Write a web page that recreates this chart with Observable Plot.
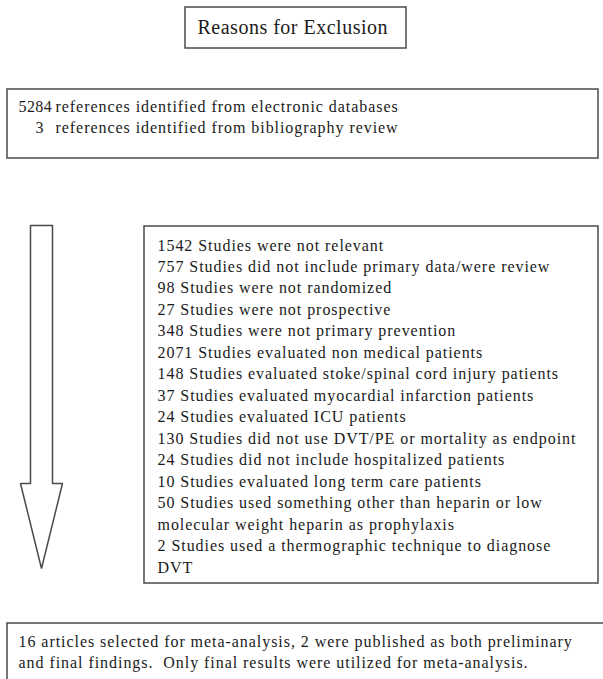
<!DOCTYPE html>
<html>
<head>
<meta charset="utf-8">
<script src="https://cdn.jsdelivr.net/npm/d3@7"></script>
<script src="https://cdn.jsdelivr.net/npm/@observablehq/plot@0.6"></script>
<style>
  html, body { margin: 0; padding: 0; background: #fff; }
  svg text { white-space: pre; font-family: "Liberation Serif", "Times New Roman", serif; }
  .body-text text { letter-spacing: 0.95px; }
  .count-text text { letter-spacing: 0.4px; }
  .title-text text { letter-spacing: 0.5px; }
</style>
</head>
<body>
<div id="chart"></div>
<script>
// ---- data ----
const title = "Reasons for Exclusion";
const sourceCounts = ["5284", "3"];
const sourceLabels = [
  "references identified from electronic databases",
  "references identified from bibliography review"
];
const exclusionCounts = [1542, 757, 98, 27, 348, 2071, 148, 37, 24, 130, 24, 10, 50, 2];
const exclusionReasons = [
  "Studies were not relevant",
  "Studies did not include primary data/were review",
  "Studies were not randomized",
  "Studies were not prospective",
  "Studies were not primary prevention",
  "Studies evaluated non medical patients",
  "Studies evaluated stoke/spinal cord injury patients",
  "Studies evaluated myocardial infarction patients",
  "Studies evaluated ICU patients",
  "Studies did not use DVT/PE or mortality as endpoint",
  "Studies did not include hospitalized patients",
  "Studies evaluated long term care patients",
  "Studies used something other than heparin or low\nmolecular weight heparin as prophylaxis",
  "Studies used a thermographic technique to diagnose\nDVT"
];
const finalLines = [
  "16 articles selected for meta-analysis, 2 were published as both preliminary",
  "and final findings.  Only final results were utilized for meta-analysis."
];

// ---- layout ----
const W = 603, H = 679;
const serif = "'Liberation Serif', 'Times New Roman', serif";
const boxes = [
  {x1: 185, x2: 406, y1: 7, y2: 48},     // title
  {x1: 7, x2: 598, y1: 89, y2: 158},     // sources
  {x1: 144, x2: 598, y1: 226, y2: 583},  // exclusions
  {x1: 7, x2: 610, y1: 623, y2: 686}     // final
];
const arrow = [
  [30, 225], [52, 225], [52, 483], [62, 483], [41, 568],
  [20, 483], [30, 483], [30, 225]
].map(([x, y]) => ({x, y}));

const titleText = [{x: 197, y: 33, text: title}];
const countTexts = sourceCounts.map((c, i) => ({x: [18, 35][i], y: 111 + i * 21.5, text: c}));
const texts = [];
sourceLabels.forEach((l, i) => texts.push({x: 55, y: 111 + i * 21.5, text: l}));
let line = 0;
exclusionCounts.forEach((c, i) => {
  const parts = (c + " " + exclusionReasons[i]).split("\n");
  parts.forEach(p => {
    texts.push({x: 157, y: 250 + line * 21.47, text: p});
    line++;
  });
});
finalLines.forEach((t, i) => texts.push({x: 18, y: 646 + i * 21.5, text: t}));

const chart = Plot.plot({
  width: W,
  height: H,
  margin: 0,
  x: {domain: [0, W], range: [0, W], axis: null},
  y: {domain: [0, H], range: [0, H], axis: null},
  style: {fontFamily: serif, background: "#fff"},
  marks: [
    Plot.rect(boxes, {x1: "x1", x2: "x2", y1: "y1", y2: "y2", fill: "none", stroke: "#4a4a4a", strokeWidth: 1.5}),
    Plot.line(arrow, {x: "x", y: "y", stroke: "#4a4a4a", strokeWidth: 1.5, strokeLinejoin: "miter"}),
    Plot.text(titleText, {x: "x", y: "y", text: "text", fontSize: 20, fontFamily: serif, textAnchor: "start", lineAnchor: "bottom", fill: "#1a1a1a", className: "title-text"}),
    Plot.text(countTexts, {x: "x", y: "y", text: "text", fontSize: 16, fontFamily: serif, textAnchor: "start", lineAnchor: "bottom", fill: "#1a1a1a", className: "count-text"}),
    Plot.text(texts, {x: "x", y: "y", text: "text", fontSize: 16, fontFamily: serif, textAnchor: "start", lineAnchor: "bottom", fill: "#1a1a1a", className: "body-text"})
  ]
});
document.getElementById("chart").appendChild(chart);
</script>
</body>
</html>
